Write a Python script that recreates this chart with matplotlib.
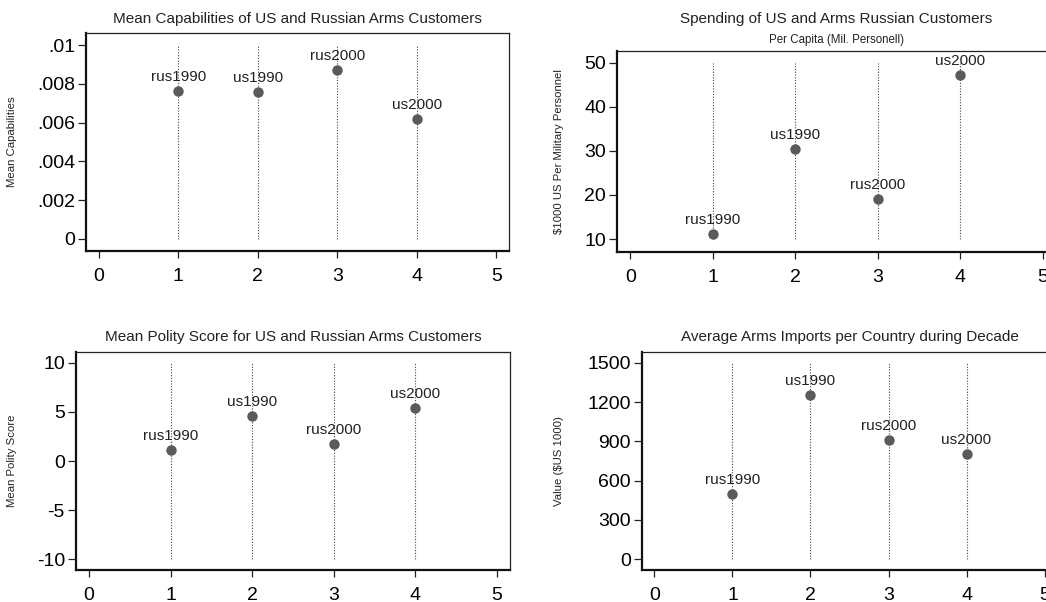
import matplotlib
matplotlib.use("Agg")
import matplotlib.pyplot as plt

plt.rcParams["font.family"] = ["Liberation Sans", "DejaVu Sans"]
plt.rcParams["axes.unicode_minus"] = False

W, H = 1046, 602

positions = [1, 2, 3, 4]
point_labels = ["rus1990", "us1990", "rus2000", "us2000"]
x_ticks = [0, 1, 2, 3, 4, 5]

capabilities = [0.00765, 0.00759, 0.00871, 0.00620]
cap_ticks = [0, 0.002, 0.004, 0.006, 0.008, 0.01]
cap_ticklabels = ["0", ".002", ".004", ".006", ".008", ".01"]

spending = [11.1, 30.5, 19.2, 47.2]
spend_ticks = [10, 20, 30, 40, 50]

polity = [1.16, 4.61, 1.74, 5.39]
polity_ticks = [-10, -5, 0, 5, 10]

imports = [497, 1254, 911, 801]
import_ticks = [0, 300, 600, 900, 1200, 1500]

# (values, yticks, yticklabels, ylim, title, subtitle, ylabel, box px, ylabel x)
panels = [
    (capabilities, cap_ticks, cap_ticklabels, (-0.00062, 0.01062),
     "Mean Capabilities of US and Russian Arms Customers", None,
     "Mean Capabilities", (86, 509, 33, 251), 17),
    (spending, spend_ticks, None, (7.05, 52.7),
     "Spending of US and Arms Russian Customers", "Per Capita (Mil. Personell)",
     "$1000 US Per Military Personnel", (617, 1056, 51, 252), 564),
    (polity, polity_ticks, None, (-11.12, 11.12),
     "Mean Polity Score for US and Russian Arms Customers", None,
     "Mean Polity Score", (76, 510, 352, 570), 17),
    (imports, import_ticks, None, (-84, 1584),
     "Average Arms Imports per Country during Decade", None,
     "Value ($US 1000)", (642, 1057, 352, 570), 564),
]

fig = plt.figure(figsize=(W / 100, H / 100), dpi=100)
fig.patch.set_facecolor("white")

for vals, yt, ytl, ylim, title, subtitle, ylabel, (x0, x1, y0, y1), ylx in panels:
    ax = fig.add_axes([x0 / W, (H - y1) / H, (x1 - x0) / W, (y1 - y0) / H])
    ax.set_xlim(-0.16, 5.16)
    ax.set_ylim(*ylim)

    ax.vlines(positions, yt[0], yt[-1], colors="#444444", linestyles=(0, (1, 1.5)),
              linewidth=0.8, zorder=1)
    ax.plot(positions, vals, "o", color="#5a5a5a", markersize=7.5,
            markeredgewidth=0, zorder=3)
    for xp, v, lab in zip(positions, vals, point_labels):
        ax.annotate(lab, (xp, v), xytext=(0, 5), textcoords="offset points",
                    ha="center", va="bottom", fontsize=11, color="#222222")

    ax.set_xticks(x_ticks)
    ax.set_yticks(yt)
    if ytl is not None:
        ax.set_yticklabels(ytl)
    ax.tick_params(axis="both", labelsize=14, width=0.9, color="#222222")
    ax.tick_params(axis="y", length=6, pad=2)
    ax.tick_params(axis="x", length=5, pad=7)

    for side in ("left", "bottom"):
        ax.spines[side].set_linewidth(1.6)
        ax.spines[side].set_color("#111111")
    for side in ("top", "right"):
        ax.spines[side].set_linewidth(0.9)
        ax.spines[side].set_color("#222222")

    ax.set_ylabel(ylabel, fontsize=8.2, color="#222222")
    ax.yaxis.set_label_coords((ylx - x0) / (x1 - x0), 0.5)

    h = y1 - y0
    ax.text(0.5, (y1 - (19 if y0 < 300 else 337)) / h, title, transform=ax.transAxes,
            ha="center", va="center", fontsize=11, color="#222222")
    if subtitle:
        ax.text(0.5, (y1 - 40) / h, subtitle, transform=ax.transAxes,
                ha="center", va="center", fontsize=8.3, color="#222222")

fig.savefig("out.png", dpi=100, facecolor="white")
